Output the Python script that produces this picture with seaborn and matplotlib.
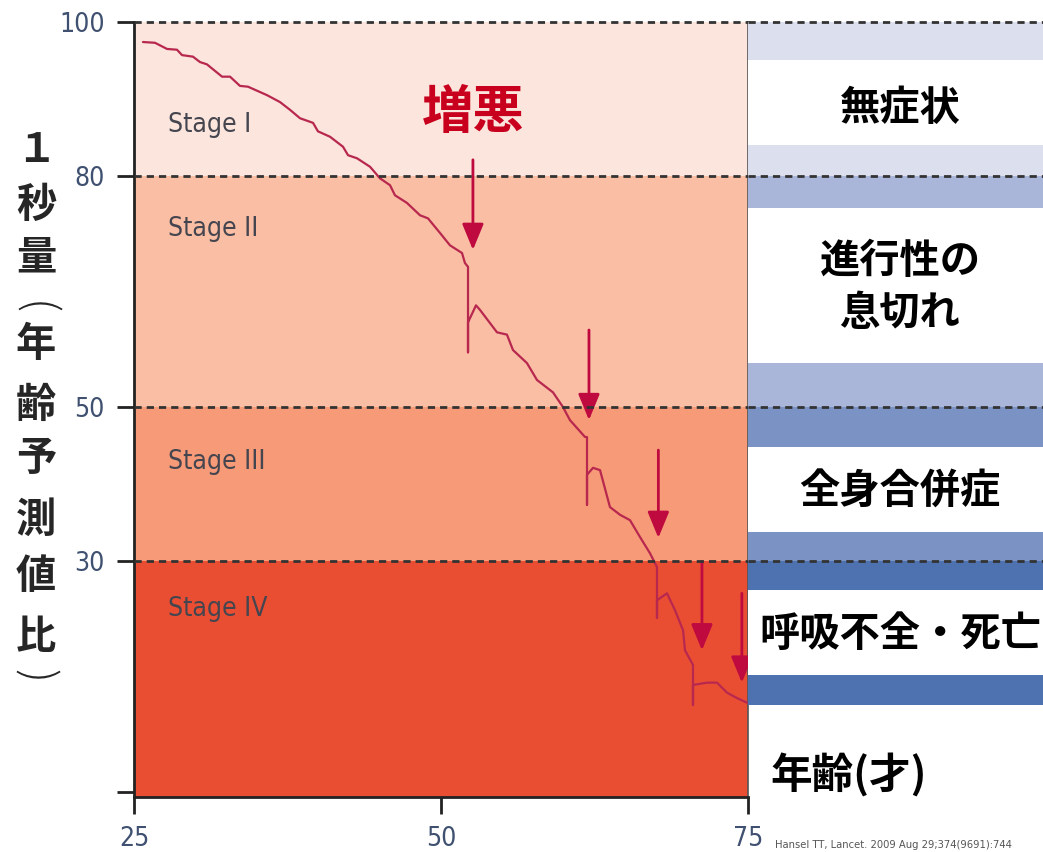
import matplotlib
matplotlib.use("Agg")
import matplotlib.pyplot as plt
from matplotlib import font_manager
import seaborn as sns
import pandas as pd

# FEV1 trajectory (% predicted), incl. exacerbation drops
ages = [25.73, 26.71, 27.69, 28.50, 28.91, 29.80, 30.37, 30.94, 32.17, 32.82,
        33.63, 34.28, 35.83, 36.89, 37.70, 38.52, 39.58, 39.98, 40.96, 42.02,
        42.43, 43.16, 44.22, 45.03, 45.85, 46.25, 47.23, 48.29, 48.94, 49.92,
        50.73, 51.71, 51.95, 52.20, 52.20, 52.20, 52.85, 53.18, 54.56, 55.37,
        55.86, 57.00, 57.82, 58.31, 59.12, 59.93, 60.50, 61.73, 61.89, 61.89,
        61.89, 62.38, 62.95, 63.76, 64.58, 65.39, 66.21, 67.02, 67.59, 67.59,
        67.59, 68.40, 69.06, 69.71, 69.87, 70.52, 70.52, 70.52, 71.66, 72.48,
        73.29, 74.10, 74.92]
fev1 = [97.4, 97.3, 96.5, 96.4, 95.7, 95.5, 94.8, 94.5, 92.9, 92.9,
        91.7, 91.6, 90.5, 89.6, 88.6, 87.5, 86.9, 85.8, 85.1, 83.8,
        82.7, 82.3, 81.2, 79.7, 78.8, 77.5, 76.5, 74.9, 74.5, 72.6,
        71.0, 70.0, 68.7, 68.2, 57.1, 61.0, 63.2, 62.6, 59.7, 59.4,
        57.4, 55.7, 53.5, 52.9, 51.9, 50.0, 48.3, 46.1, 46.1, 37.3,
        41.2, 42.1, 41.8, 37.0, 36.0, 35.3, 33.1, 31.0, 29.2, 22.6,
        24.9, 25.8, 23.6, 21.0, 18.4, 16.5, 11.3, 13.9, 14.2, 14.2,
        12.9, 12.2, 11.6]

# exacerbation arrows
arrow_ages = [52.6, 62.05, 67.7, 71.25, 74.5]
arrow_tops = [82.1, 60.0, 44.4, 29.9, 25.8]
arrow_tips = [70.4, 48.3, 33.0, 18.4, 14.2]

stage_names = ["Stage I", "Stage II", "Stage III", "Stage IV"]
stage_lo = [80, 50, 30, -1]
stage_hi = [100, 80, 50, 30]
stage_label_y = [86.6, 73.1, 42.9, 23.8]
stage_colors = ["#fbe5dc", "#f9bea4", "#f69a78", "#e94e33"]

symptom_labels = ["無症状", "進行性の\n息切れ", "全身合併症", "呼吸不全・死亡"]
symptom_label_y = [88.8, 65.5, 39.0, 20.4]
symptom_band_lo = [80, 50, 30, 11.3]
symptom_band_hi = [100, 80, 50, 30]
symptom_box_lo = [84.0, 55.7, 33.8, 15.2]
symptom_box_hi = [95.1, 75.8, 44.8, 26.2]
symptom_colors = ["#dcdfee", "#a9b5d9", "#7a92c4", "#4e72b0"]

cutoffs = [100, 80, 50, 30]
y_ticks = [0, 30, 50, 80, 100]
y_ticklabels = ["", "30", "50", "80", "100"]
x_ticks = [25, 50, 75]

ylabel_chars = ["１", "秒", "量", "(", "年", "齢", "予", "測", "値", "比", ")"]

sns.set_theme(style="white")
plt.rcParams['font.family'] = ['Noto Sans CJK JP', 'DejaVu Sans']

# pick a condensed latin face for the small labels if one is installed
cond = None
rank = {'ultra-condensed': 0, 'extra-condensed': 1, 'condensed': 2,
        'semi-condensed': 3}
best = 9
for f in font_manager.fontManager.ttflist:
    st = str(f.stretch)
    r = rank.get(st, 4 if ('Narrow' in f.name or 'Condensed' in f.name) else 9)
    if r < best and f.style == 'normal' and f.weight in (400, 'normal', 'regular'):
        best, cond = r, f.fname
small_font = font_manager.FontProperties(fname=cond) if cond else \
    font_manager.FontProperties(family='DejaVu Sans')
shrink = 1.0 if cond else 0.85

W, H = 1043, 852
fig = plt.figure(figsize=(W / 100, H / 100), dpi=100)
ax = fig.add_axes([134 / W, 1 - 797 / H, 614 / W, 775 / H])
ax2 = fig.add_axes([748 / W, 1 - 797 / H, 295 / W, 775 / H], sharey=ax)

# stage background bands
for lo, hi, c in zip(stage_lo, stage_hi, stage_colors):
    ax.axhspan(lo, hi, color=c, lw=0, zorder=0)
for name, y in zip(stage_names, stage_label_y):
    ax.text(27.8, y, name, fontproperties=small_font, fontsize=19 * shrink,
            color="#45454f", va="center", ha="left")

df = pd.DataFrame({"age": ages, "fev1": fev1})
sns.lineplot(data=df, x="age", y="fev1", sort=False, estimator=None,
             color="#b8284e", lw=1.6, ax=ax, zorder=3)

for x, top, tip in zip(arrow_ages, arrow_tops, arrow_tips):
    ax.annotate("", xy=(x, tip), xytext=(x, top),
                arrowprops=dict(arrowstyle="-|>,head_length=0.8,head_width=0.33",
                                mutation_scale=20, color="#bf0a3f", lw=2,
                                shrinkA=0, shrinkB=0), zorder=4)
ax.text(52.6, 88.2, "増悪", fontsize=37, fontweight="bold", color="#c8001e",
        ha="center", va="center")

for c in cutoffs:
    for a in (ax, ax2):
        a.axhline(c, color="#333333", lw=2, dashes=(2.6, 1.8), clip_on=False,
                  zorder=5)

ax.set_xlim(25, 75)
ax.set_ylim(-0.65, 100)
ax.set_xticks(x_ticks)
ax.set_xticklabels([str(t) for t in x_ticks])
ax.set_yticks(y_ticks)
ax.set_yticklabels(y_ticklabels)
for lab in ax.get_xticklabels() + ax.get_yticklabels():
    lab.set_fontproperties(small_font)
    lab.set_fontsize(19 * shrink)
    lab.set_color("#3f5070")
ax.tick_params(axis="both", direction="out", length=12, width=2,
               color="#222222", left=True, bottom=True, pad=9)
ax.set_xlabel("")
ax.set_ylabel("")
for s in ("left", "bottom"):
    ax.spines[s].set_linewidth(2)
    ax.spines[s].set_color("#222222")
ax.spines["top"].set_visible(False)
ax.spines["right"].set_linewidth(1.2)
ax.spines["right"].set_color("#555555")

# symptom panel on the right
for lo, hi, blo, bhi, c in zip(symptom_band_lo, symptom_band_hi,
                               symptom_box_lo, symptom_box_hi, symptom_colors):
    ax2.axhspan(lo, hi, color=c, lw=0, zorder=0)
    ax2.axhspan(blo, bhi, color="white", lw=0, zorder=1)
for lab, y in zip(symptom_labels, symptom_label_y):
    ax2.text(0.515, y, lab, fontsize=29, fontweight="bold", color="black",
             ha="center", va="center", multialignment="center",
             linespacing=1.35, zorder=6)
ax2.text(0.075, 2.2, "年齢(才)", fontsize=30, fontweight="bold", color="black",
         ha="left", va="center")
ax2.set_xlim(0, 1)
ax2.axis("off")

# stacked vertical y label (parentheses turned to sit in the column)
ypix = [150, 205, 258, 308, 345, 405, 458, 520, 577, 637, 676]
for ch, yp in zip(ylabel_chars, ypix):
    if ch in "()":
        fig.text(34 / W, 1 - yp / H, ch, fontsize=32, rotation=-90,
                 fontweight="light", ha="center", va="center")
    else:
        fig.text(36 / W, 1 - yp / H, ch, fontsize=29, fontweight="bold",
                 ha="center", va="center")

fig.text(775 / W, 1 - 845 / H, "Hansel TT, Lancet. 2009 Aug 29;374(9691):744",
         fontproperties=small_font, fontsize=8 * shrink, color="#555555",
         ha="left", va="center")

fig.savefig("out.png", dpi=100)
